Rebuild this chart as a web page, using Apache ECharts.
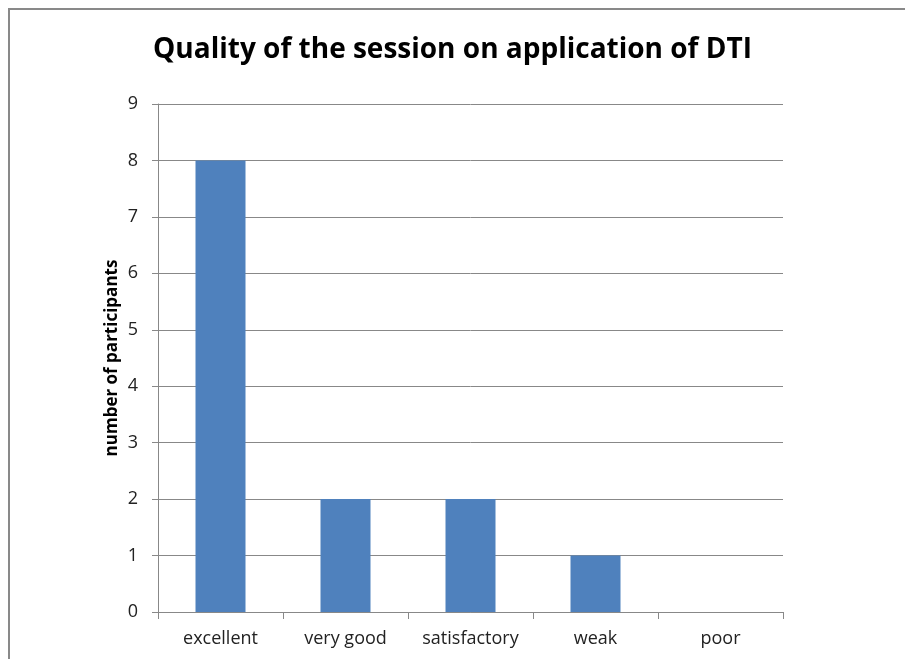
<!DOCTYPE html>
<html><head><meta charset="utf-8">
<script src="https://cdn.jsdelivr.net/npm/echarts@6/dist/echarts.min.js"></script>
<style>html,body{margin:0;padding:0;background:#fff}#c{width:905px;height:659px}</style>
</head><body><div id="c"></div>
<script>
const categories = ["excellent", "very good", "satisfactory", "weak", "poor"];
const participants = [8, 2, 2, 1, 0];
const chart = echarts.init(document.getElementById('c'));
const font = "'Open Sans', Lato, sans-serif";
chart.setOption({
  animation: false,
  backgroundColor: '#fff',
  graphic: [{type: 'rect', shape: {x: 9, y: 9, width: 1000, height: 1000}, style: {fill: 'none', stroke: '#898989', lineWidth: 2}}],
  title: {text: 'Quality of the session on application of DTI', left: 'center', top: 31,
    textStyle: {fontFamily: font, fontSize: 28, fontWeight: 'bold', color: '#000'}},
  grid: {left: 158, right: 122, top: 104, bottom: 47},
  xAxis: {type: 'category', data: categories,
    axisLine: {lineStyle: {color: '#888', width: 1}},
    axisTick: {show: true, length: 7, lineStyle: {color: '#888'}},
    axisLabel: {interval: 0, fontFamily: font, fontSize: 18, color: '#222', margin: 18}},
  yAxis: {type: 'value', min: 0, max: 9, interval: 1,
    name: 'number of participants', nameLocation: 'middle', nameGap: 37, nameMoveOverlap: false,
    nameTextStyle: {fontFamily: font, fontSize: 17, fontWeight: 'bold', color: '#000'},
    axisLine: {show: true, lineStyle: {color: '#888'}},
    axisTick: {show: true, length: 6, lineStyle: {color: '#888'}},
    axisLabel: {fontFamily: font, fontSize: 18, color: '#222', margin: 20},
    splitLine: {lineStyle: {color: '#888', width: 1}}},
  series: [{type: 'bar', data: participants, barWidth: '40%', itemStyle: {color: '#4f81bd'}}]
});
</script></body></html>
